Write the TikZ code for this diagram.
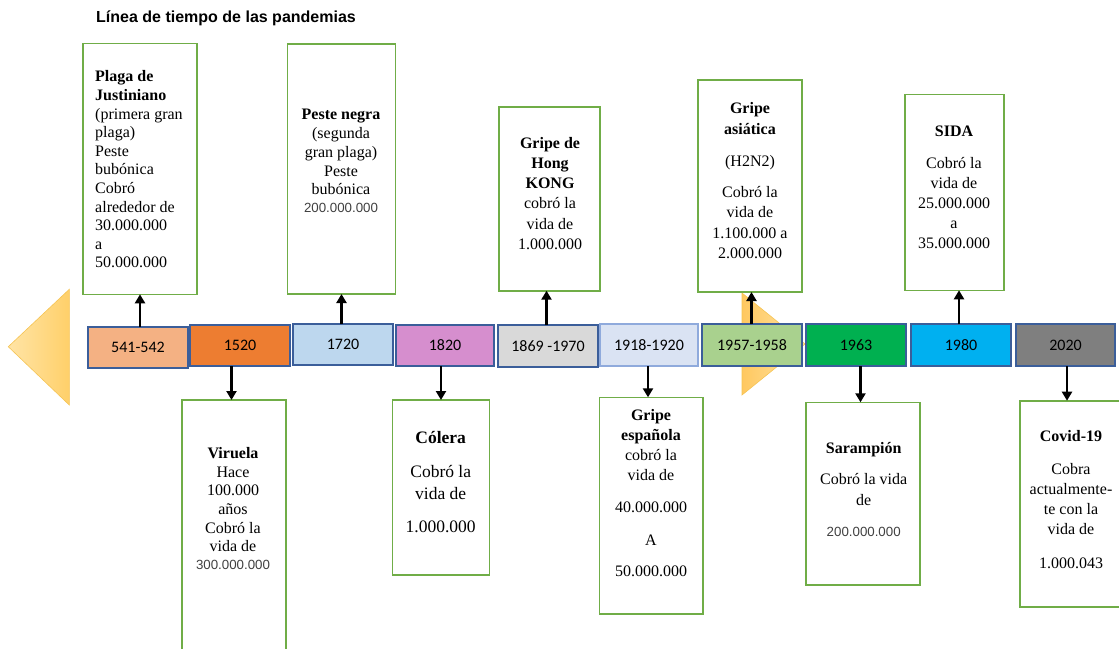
\documentclass[tikz,border=0pt]{standalone}
\usepackage{fontspec}
\setmainfont{Liberation Serif}
\newfontfamily\arialf{Liberation Sans}
\newfontfamily\calib{Carlito}
\usetikzlibrary{arrows.meta}
\definecolor{grn}{HTML}{70AD47}
\definecolor{ybord}{HTML}{3B5E9A}
\definecolor{ybordl}{HTML}{8FAADC}
\definecolor{cA}{HTML}{F4B183}
\definecolor{cB}{HTML}{ED7D31}
\definecolor{cC}{HTML}{BDD7EE}
\definecolor{cD}{HTML}{D68ECE}
\definecolor{cE}{HTML}{D9D9D9}
\definecolor{cF}{HTML}{DAE3F3}
\definecolor{cG}{HTML}{A9D18E}
\definecolor{cH}{HTML}{00B050}
\definecolor{cI}{HTML}{00B0F0}
\definecolor{cJ}{HTML}{7F7F7F}
\definecolor{numgray}{HTML}{404040}
\definecolor{triL}{HTML}{FFE4A6}
\definecolor{triR}{HTML}{FFD06A}
\definecolor{triE}{HTML}{F6C453}
\newcommand{\gnum}[1]{{\arialf\fontsize{13.3}{15}\selectfont\color{numgray}#1}}
\begin{document}
\begin{tikzpicture}[x=1pt,y=-1pt,
  evbox/.style={draw=grn,line width=1.6pt,fill=white,inner sep=0pt,outer sep=0pt,anchor=north west},
  yrbox/.style={draw=ybord,line width=1.5pt,inner sep=0pt,outer sep=0pt,anchor=north west,
     minimum width=99pt,minimum height=41pt,font=\calib\fontsize{16}{18}\selectfont},
  evtext/.style={inner sep=0pt,align=center,anchor=north,font=\fontsize{16}{18.7}\selectfont},
  arr/.style={line width=2.2pt,-{Triangle[length=9pt,width=10pt]}}]
\useasboundingbox (0,0) rectangle (1119,648);
\clip (0,0) rectangle (1119,648);
\fill[white] (0,0) rectangle (1119,648);

% title
\node[anchor=base west,inner sep=0pt,font=\arialf\bfseries\fontsize{16}{19}\selectfont] (title) at (96,22.5) {Línea de tiempo de las pandemias};

% triangles
\shade[left color=triL,right color=triR,draw=triE,line width=0.6pt] (8.3,346.7) -- (69.3,289.3) -- (69.3,405) -- cycle;
\shade[left color=triR!90!orange,right color=triL,draw=triE,line width=0.6pt] (742,293) -- (805,344) -- (742,395) -- cycle;

% event boxes (top)
\node[evbox,minimum width=114pt,minimum height=251pt] (b1) at (83,43.3) {};
\node[evbox,minimum width=108pt,minimum height=250pt] (b3) at (287.3,44) {};
\node[evbox,minimum width=101pt,minimum height=184pt] (b5) at (499,106.7) {};
\node[evbox,minimum width=104pt,minimum height=212pt] (b7) at (697.7,80) {};
\node[evbox,minimum width=99pt,minimum height=196pt] (b9) at (905,94.3) {};
% event boxes (bottom)
\node[evbox,minimum width=104pt,minimum height=270pt] (b2) at (182,400) {};
\node[evbox,minimum width=97pt,minimum height=175pt] (b4) at (392.3,400) {};
\node[evbox,minimum width=103.4pt,minimum height=216.7pt] (b6) at (599.3,397.3) {};
\node[evbox,minimum width=114pt,minimum height=182.7pt] (b8) at (806,402.3) {};
\node[evbox,minimum width=103pt,minimum height=206pt] (b10) at (1020,400.7) {};

% texts
\node[inner sep=0pt,align=left,anchor=north west,font=\fontsize{16}{18.6}\selectfont] (t1) at (95,70.5)
 {\textbf{Plaga de}\\\textbf{Justiniano}\\(primera gran\\plaga)\\Peste\\bubónica\\Cobró\\alrededor de\\30.000.000\\a\\50.000.000};
\node[evtext,font=\fontsize{16}{18.8}\selectfont] (t3) at (341,109)
 {\textbf{Peste negra}\\(segunda\\gran plaga)\\Peste\\bubónica\\[-1.5pt]\gnum{200.000.000}};
\node[evtext,font=\fontsize{16}{20.2}\selectfont] (t5) at (550,137)
 {\textbf{Gripe de}\\\textbf{Hong}\\\textbf{KONG}\\cobró la\\vida de\\1.000.000};
\node[evtext,font=\fontsize{16}{20.4}\selectfont] (t7) at (750,102.5)
 {\textbf{Gripe}\\\textbf{asiática}\\[12pt](H2N2)\\[10.5pt]Cobró la\\vida de\\1.100.000 a\\2.000.000};
\node[evtext,font=\fontsize{16}{20}\selectfont] (t9) at (954,125.5)
 {\textbf{SIDA}\\[12pt]Cobró la\\vida de\\25.000.000\\a\\35.000.000};
\node[evtext,font=\fontsize{16}{18.7}\selectfont] (t2) at (233,447)
 {\textbf{Viruela}\\Hace\\100.000\\años\\Cobró la\\vida de\\[-1pt]\gnum{300.000.000}};
\node[evtext,font=\fontsize{17.5}{22.3}\selectfont] (t4) at (440.7,431.5)
 {\textbf{Cólera}\\[11pt]Cobró la\\vida de\\[11pt]1.000.000};
\node[evtext,font=\fontsize{16}{20}\selectfont] (t6) at (651,409.5)
 {\textbf{Gripe}\\\textbf{española}\\cobró la\\vida de\\[12pt]40.000.000\\[13pt]A\\[11pt]50.000.000};
\node[evtext,font=\fontsize{16}{21}\selectfont] (t8) at (863.7,442.5)
 {\textbf{Sarampión}\\[10pt]Cobró la vida\\de\\[10pt]\gnum{200.000.000}};
\node[evtext,font=\fontsize{16}{20}\selectfont] (t10) at (1071,430.5)
 {\textbf{Covid-19}\\[13pt]Cobra\\actualmente-\\te con la\\vida de\\[14pt]1.000.043};

% year boxes
\node[yrbox,fill=cA,minimum width=100pt] (y1) at (88,327) {541-542};
\node[yrbox,fill=cB,minimum width=100pt] (y2) at (190,325) {1520};
\node[yrbox,fill=cC,minimum width=100pt] (y3) at (293,324) {1720};
\node[yrbox,fill=cD,minimum width=98pt] (y4) at (396,325) {1820};
\node[yrbox,fill=cE,minimum width=100pt,minimum height=42pt,text depth=-6pt] (y5) at (498,325) {1869 -1970};
\node[yrbox,fill=cF,draw=ybordl,minimum width=98pt,minimum height=42pt] (y6) at (600,324) {1918-1920};
\node[yrbox,fill=cG,minimum width=100pt,minimum height=42pt] (y7) at (702,324) {1957-1958};
\node[yrbox,fill=cH,minimum width=100pt,minimum height=42pt] (y8) at (806,324) {1963};
\node[yrbox,fill=cI,minimum width=100pt,minimum height=42pt] (y9) at (911,324) {1980};
\node[yrbox,fill=cJ,minimum width=99pt,minimum height=42pt] (y10) at (1016,324) {2020};

% arrows
\draw[arr] (140,0 |- y1.north) -- (140,0 |- b1.south);
\draw[arr] (231.5,0 |- y2.south) -- (231.5,0 |- b2.north);
\draw[arr] (341.5,0 |- y3.north) -- (341.5,0 |- b3.south);
\draw[arr] (441,0 |- y4.south) -- (441,0 |- b4.north);
\draw[arr] (546.5,0 |- y5.north) -- (546.5,0 |- b5.south);
\draw[arr] (648,0 |- y6.south) -- (648,0 |- b6.north);
\draw[arr] (751.5,0 |- y7.north) -- (751.5,0 |- b7.south);
\draw[arr] (860.5,0 |- y8.south) -- (860.5,0 |- b8.north);
\draw[arr] (959,0 |- y9.north) -- (959,0 |- b9.south);
\draw[arr] (1067,0 |- y10.south) -- (1067,0 |- b10.north);
\end{tikzpicture}
\end{document}
